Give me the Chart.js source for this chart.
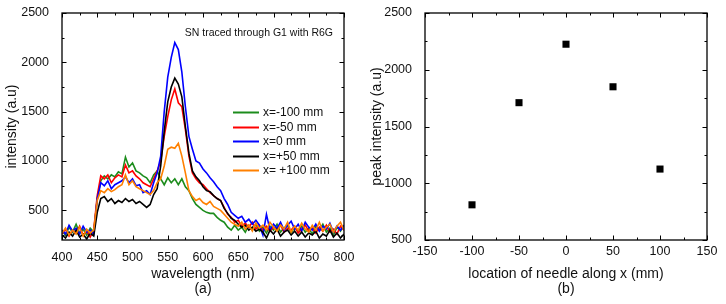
<!DOCTYPE html>
<html>
<head>
    <title>SN traced through G1 with R6G</title>
    <script src="https://cdn.jsdelivr.net/npm/chart.js"></script>
    <style>
        body { margin: 0; background: #fff; }
        .panel { position: absolute; top: 0; width: 363px; height: 304px; }
    </style>
</head>
<body>
    <div class="panel" style="left:0"><canvas id="spectraChart" width="363" height="304"></canvas></div>
    <div class="panel" style="left:363px"><canvas id="peakChart" width="363" height="304"></canvas></div>

    <script>
        // (a) spectra, one point every 5 nm
        const wavelength = [
            400, 405, 410, 415, 420, 425, 430, 435, 440, 445,
            450, 455, 460, 465, 470, 475, 480, 485, 490, 495,
            500, 505, 510, 515, 520, 525, 530, 535, 540, 545,
            550, 555, 560, 565, 570, 575, 580, 585, 590, 595,
            600, 605, 610, 615, 620, 625, 630, 635, 640, 645,
            650, 655, 660, 665, 670, 675, 680, 685, 690, 695,
            700, 705, 710, 715, 720, 725, 730, 735, 740, 745,
            750, 755, 760, 765, 770, 775, 780, 785, 790, 795,
            800
        ];
        const seriesLabels = ['x=-100 mm', 'x=-50 mm', 'x=0 mm', 'x=+50 mm', 'x= +100 mm'];
        const seriesColors = ['#1c8c1c', '#ff0000', '#0000ff', '#000000', '#ff8000'];

        const xMinus100 = [
            290, 250, 330, 280, 360, 270, 310, 250, 320, 280,
            620, 800, 850, 820, 860, 840, 890, 870, 1040, 940,
            980, 900, 880, 850, 830, 780, 860, 900, 820, 760,
            830, 780, 820, 760, 820, 740, 700, 620, 560, 530,
            500, 480, 470, 470, 430, 400, 380, 330, 300, 350,
            300, 330, 280, 350, 300, 360, 290, 330, 270, 340,
            300, 360, 280, 320, 350, 270, 330, 290, 340, 280,
            320, 260, 340, 300, 360, 280, 320, 250, 330, 290,
            350
        ];
        const xMinus50 = [
            260, 310, 240, 300, 270, 340, 250, 290, 230, 300,
            650, 850, 820, 860, 780, 830, 860, 840, 960, 880,
            900, 850, 820, 780, 760, 740, 820, 900, 1000, 1250,
            1450, 1620, 1730, 1590, 1550, 1320, 1050, 880, 820, 780,
            760, 720, 680, 650, 620, 600, 530, 460, 430, 380,
            400, 340, 370, 330, 380, 310, 350, 300, 340, 290,
            330, 300, 350, 280, 320, 300, 340, 270, 310, 350,
            290, 320, 270, 330, 290, 350, 280, 310, 260, 340,
            300
        ];
        const xZero = [
            300, 260, 350, 290, 320, 260, 340, 280, 300, 260,
            620, 780, 750, 800, 720, 760, 780, 800, 840, 780,
            820, 750, 760, 680, 700, 660, 780, 880, 1050, 1500,
            1850, 2050, 2200, 2130, 1900, 1550, 1250, 1120, 1000, 980,
            920, 880, 830, 790, 740, 700, 620, 560, 480, 450,
            420, 440, 380, 410, 360, 400, 350, 250, 460, 300,
            360, 320, 380, 300, 350, 390, 310, 360, 290, 380,
            330, 300, 360, 290, 340, 310, 370, 280, 340, 300,
            350
        ];
        const xPlus50 = [
            250, 220, 280, 240, 300, 230, 260, 210, 270, 240,
            480, 620, 640, 590, 620, 570, 600, 580, 620, 590,
            610, 570, 590, 560, 530, 560, 660, 720, 950, 1300,
            1600, 1750, 1840, 1780, 1650, 1350, 1080, 900, 840, 800,
            740, 700, 690, 650, 620, 600, 520, 470, 420, 400,
            360, 330, 350, 300, 330, 290, 310, 280, 220, 300,
            260, 310, 240, 280, 300, 250, 290, 240, 280, 230,
            270, 250, 290, 220, 260, 240, 300, 230, 270, 220,
            260
        ];
        const xPlus100 = [
            270, 320, 250, 300, 260, 330, 240, 310, 270, 300,
            600, 700, 680, 720, 690, 710, 740, 760, 860, 760,
            800, 740, 720, 700, 680, 660, 700, 780, 820, 950,
            1120, 1140, 1130, 1180, 1050, 880, 700, 640, 600, 620,
            580, 560, 590, 540, 520, 500, 460, 420, 380, 360,
            340, 380, 310, 350, 290, 370, 320, 350, 300, 380,
            330, 290, 350, 310, 380, 280, 340, 300, 370, 310,
            280, 350, 300, 380, 290, 330, 360, 280, 340, 380,
            300
        ];
        const spectra = [xMinus100, xMinus50, xZero, xPlus50, xPlus100];

        // (b) peak intensity vs needle position
        const needlePos = [-100, -50, 0, 50, 100];
        const peakIntensity = [810, 1710, 2225, 1850, 1125];

        const wlTicks = [400, 450, 500, 550, 600, 650, 700, 750, 800];
        const spectraYTicks = [500, 1000, 1500, 2000, 2500];
        const posTicks = [-150, -100, -50, 0, 50, 100, 150];
        const peakYTicks = [500, 1000, 1500, 2000, 2500];

        const FONT = '"Liberation Sans", Arial, sans-serif';
        Chart.defaults.font.family = FONT;
        Chart.defaults.color = '#111';

        const midpoints = arr => arr.slice(1).map((v, i) => (v + arr[i]) / 2);

        // box frame with inward major/minor ticks on all four sides
        const frameTicks = {
            id: 'frameTicks',
            afterDatasetsDraw(chart, args, opts) {
                const { ctx, chartArea: a, scales: { x, y } } = chart;
                ctx.save();
                ctx.strokeStyle = '#000';
                ctx.lineWidth = 1;
                ctx.beginPath();
                const xMarks = (vals, len) => vals.forEach(v => {
                    const px = Math.round(x.getPixelForValue(v)) + 0.5;
                    ctx.moveTo(px, a.bottom); ctx.lineTo(px, a.bottom - len);
                    ctx.moveTo(px, a.top); ctx.lineTo(px, a.top + len);
                });
                const yMarks = (vals, len) => vals.forEach(v => {
                    const py = Math.round(y.getPixelForValue(v)) + 0.5;
                    ctx.moveTo(a.left, py); ctx.lineTo(a.left + len, py);
                    ctx.moveTo(a.right, py); ctx.lineTo(a.right - len, py);
                });
                xMarks(opts.xMajor, 4.5);
                xMarks(midpoints(opts.xMajor), 2.5);
                yMarks(opts.yMajor, 4.5);
                yMarks(midpoints(opts.yMajor).concat(opts.yExtraMinor || []), 2.5);
                ctx.stroke();
                ctx.lineWidth = 1.3;
                ctx.strokeRect(a.left, a.top, a.right - a.left, a.bottom - a.top);
                ctx.restore();
            }
        };

        // annotation and legend inside panel (a)
        const spectraNotes = {
            id: 'spectraNotes',
            afterDatasetsDraw(chart) {
                const { ctx, chartArea: a } = chart;
                ctx.save();
                ctx.fillStyle = '#111';
                ctx.textBaseline = 'middle';
                ctx.font = '10.5px ' + FONT;
                ctx.textAlign = 'right';
                ctx.fillText('SN traced through G1 with R6G', a.right - 11, a.top + 20);
                ctx.font = '12px ' + FONT;
                ctx.textAlign = 'left';
                chart.data.datasets.forEach((ds, i) => {
                    const yy = Math.round(a.top + 99 + i * 14.5) + 0.5;
                    ctx.strokeStyle = ds.borderColor;
                    ctx.lineWidth = 2;
                    ctx.beginPath();
                    ctx.moveTo(a.left + 171, yy);
                    ctx.lineTo(a.left + 197, yy);
                    ctx.stroke();
                    ctx.fillText(ds.label, a.left + 201, yy + 0.5);
                });
                ctx.restore();
            }
        };

        function axisOptions(opts) {
            return {
                x: {
                    type: 'linear', min: opts.xMin, max: opts.xMax,
                    afterBuildTicks: s => { s.ticks = opts.xTicks.map(v => ({ value: v })); },
                    grid: { display: false },
                    border: { display: false },
                    ticks: { padding: opts.xPad, font: { size: 12.5 }, maxRotation: 0, callback: v => String(v) },
                    title: {
                        display: true, text: opts.xTitle,
                        font: { size: 14, lineHeight: 1.07 },
                        padding: { top: 0, bottom: 7.5 }
                    },
                    afterFit: s => { s.height = 64; }
                },
                y: {
                    type: 'linear', min: opts.yMin, max: opts.yMax,
                    afterBuildTicks: s => { s.ticks = opts.yTicks.map(v => ({ value: v })); },
                    grid: { display: false },
                    border: { display: false },
                    ticks: { padding: 5, font: { size: 12.5 }, callback: v => String(v) },
                    title: {
                        display: true, text: opts.yTitle,
                        font: { size: 14, lineHeight: 1.2 },
                        padding: { top: opts.yTitlePad, bottom: 0 }
                    },
                    afterFit: s => { s.width = 62; }
                }
            };
        }

        new Chart(document.getElementById('spectraChart'), {
            type: 'line',
            data: {
                datasets: spectra.map((vals, i) => ({
                    label: seriesLabels[i],
                    data: vals.map((v, j) => ({ x: wavelength[j], y: v })),
                    borderColor: seriesColors[i],
                    borderWidth: 1.6,
                    pointRadius: 0,
                    tension: 0,
                    fill: false,
                    order: spectra.length - i
                }))
            },
            options: {
                responsive: false,
                animation: false,
                layout: { padding: { top: 13, right: 19, left: 0, bottom: 0 } },
                scales: axisOptions({
                    xMin: 400, xMax: 800, xTicks: wlTicks, xPad: 2,
                    xTitle: ['wavelength (nm)', '(a)'],
                    yMin: 200, yMax: 2500, yTicks: spectraYTicks,
                    yTitle: 'intensity (a.u)', yTitlePad: 4
                }),
                plugins: {
                    legend: { display: false },
                    tooltip: { enabled: false },
                    frameTicks: { xMajor: wlTicks, yMajor: spectraYTicks, yExtraMinor: [250] }
                }
            },
            plugins: [frameTicks, spectraNotes]
        });

        new Chart(document.getElementById('peakChart'), {
            type: 'scatter',
            data: {
                datasets: [{
                    label: 'peak intensity',
                    data: needlePos.map((p, i) => ({ x: p, y: peakIntensity[i] })),
                    pointStyle: 'rect',
                    pointRadius: 5,
                    backgroundColor: '#000',
                    borderColor: '#000',
                    borderWidth: 0
                }]
            },
            options: {
                responsive: false,
                animation: false,
                layout: { padding: { top: 13, right: 19, left: 0, bottom: 0 } },
                scales: axisOptions({
                    xMin: -150, xMax: 150, xTicks: posTicks, xPad: -4,
                    xTitle: ['location of needle along x (mm)', '(b)'],
                    yMin: 500, yMax: 2500, yTicks: peakYTicks,
                    yTitle: 'peak intensity (a.u)', yTitlePad: 6
                }),
                plugins: {
                    legend: { display: false },
                    tooltip: { enabled: false },
                    frameTicks: { xMajor: posTicks, yMajor: peakYTicks }
                }
            },
            plugins: [frameTicks]
        });
    </script>
</body>
</html>
